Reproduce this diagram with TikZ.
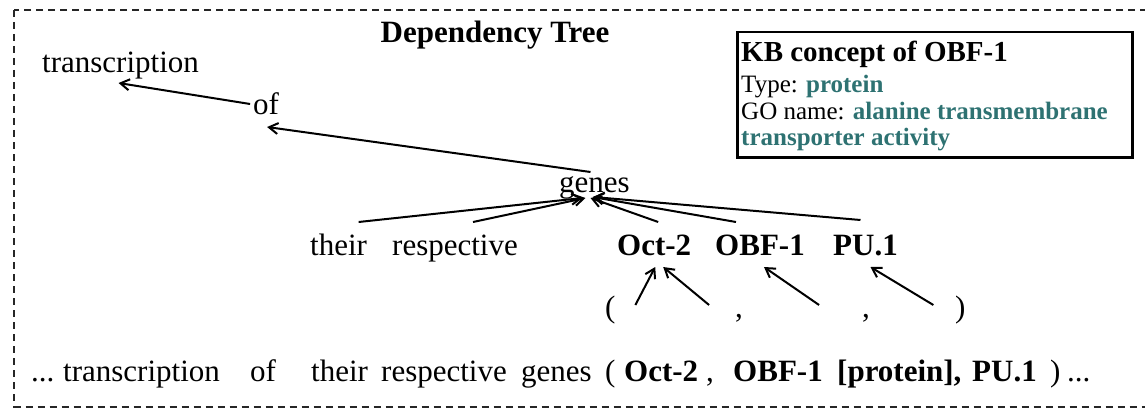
\documentclass[tikz,border=0pt]{standalone}
\usepackage{fontspec}
\setmainfont{Liberation Serif}
\usetikzlibrary{arrows.meta,calc}
\definecolor{goteal}{HTML}{2E7272}
\begin{document}
\begin{tikzpicture}[x=1pt,y=-1pt,
  word/.style={anchor=base west, inner sep=0pt, font=\fontsize{31}{37}\selectfont},
  bword/.style={anchor=base west, inner sep=0pt, font=\fontsize{31}{37}\selectfont\bfseries},
  kbline/.style={anchor=base west, inner sep=0pt, font=\fontsize{25}{30}\selectfont},
  dep/.style={-{Straight Barb[length=9pt,width=11pt,line width=2pt]}, line width=2pt},
]
\useasboundingbox (0,0) rectangle (1145,409);
\begin{scope}
\clip (0,0) rectangle (1145,409);
% outer dashed frame (runs off the right edge)
\draw[line width=2pt, dash pattern=on 7pt off 5pt, black!85] (14,10) rectangle (1180,406.5);
\end{scope}

% title
\node[anchor=base, inner sep=0pt, font=\fontsize{31}{37}\selectfont\bfseries] (title) at (495,43) {Dependency Tree};

% knowledge-base box
\node[draw, line width=2.5pt, anchor=north west, minimum width=395pt, minimum height=125pt, inner sep=0pt] (kb) at (736,31) {};
\node[anchor=base west, inner sep=0pt, font=\fontsize{29}{34}\selectfont\bfseries] (kbt) at (741,62) {KB concept of OBF-1};
\node[kbline] (kbtype) at (741,93) {Type: \textcolor{goteal}{\bfseries protein}};
\node[kbline] (kbgo) at (741,120) {GO name: \textcolor{goteal}{\bfseries alanine transmembrane}};
\node[kbline] (kbgo2) at (741,145) {\textcolor{goteal}{\bfseries transporter activity}};

% tree words
\node[word] (transcription) at (42,73) {transcription};
\node[word] (of) at (253,115) {of};
\node[word] (genes) at (559,192) {genes};
\node[word] (their) at (310,255) {their};
\node[word] (respective) at (392,255) {respective};
\node[bword] (oct) at (617,255) {Oct-2};
\node[bword] (obf) at (715,255) {OBF-1};
\node[bword] (pu) at (833,255) {PU.1};
\node[word] (lp) at (605,317) {(};
\node[word] (c1) at (735,317) {,};
\node[word] (c2) at (862,317) {,};
\node[word] (rp) at (955,317) {)};

% dependency arcs (child -> head)
\draw[dep] ($(of.base)+(-16,-11)$) -- ($(transcription.base)+(-2,10)$);
\draw[dep] ($(genes.base)+(-4,-20)$) -- ($(of.base)+(1,12)$);
\draw[dep] ($(their.base)+(20,-33)$) -- ($(genes.base)+(-12,6)$);
\draw[dep] ($(respective.base)+(18,-33)$) -- ($(genes.base)+(-9,6)$);
\draw[dep] ($(oct.base)+(4,-33)$) -- ($(genes.base)+(-4,6)$);
\draw[dep] ($(obf.base)+(-24,-33)$) -- ($(genes.base)+(-2,5)$);
\draw[dep] ($(pu.base)+(-5,-35)$) -- ($(genes.base)+(-1,5)$);
\draw[dep] ($(lp.base)+(25,-12)$) -- ($(oct.base)+(1,12)$);
\draw[dep] ($(c1.base)+(-30,-12)$) -- ($(oct.base)+(9,12)$);
\draw[dep] ($(c2.base)+(-47,-12)$) -- ($(obf.base)+(4,12)$);
\draw[dep] ($(rp.base)+(-27,-12)$) -- ($(pu.base)+(5,12)$);

% sentence line
\node[word] (s1) at (31,381) {...};
\node[word] (s2) at (63,381) {transcription};
\node[word] (s3) at (250,381) {of};
\node[word] (s4) at (311,381) {their};
\node[word] (s5) at (381,381) {respective};
\node[word] (s6) at (521,381) {genes};
\node[word] (s7) at (605,381) {(};
\node[bword] (s8) at (624,381) {Oct-2};
\node[word] (s9) at (706,381) {,};
\node[bword] (s10) at (733,381) {OBF-1};
\node[bword] (s11) at (837,381) {[protein],};
\node[bword] (s12) at (972,381) {PU.1};
\node[word] (s13) at (1050,381) {)};
\node[word] (s14) at (1067,381) {...};
\end{tikzpicture}
\end{document}
